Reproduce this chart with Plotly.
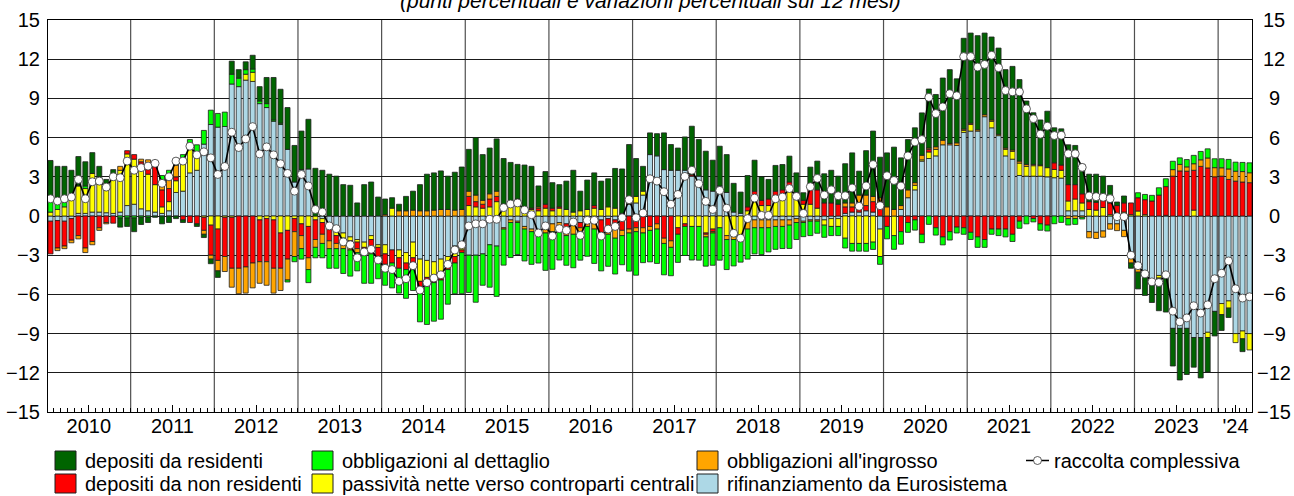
import plotly.graph_objects as go

# ---------------- data (monthly, Jan 2010 - May 2024) ----------------
year_labels = [str(y) for y in range(2010, 2024)] + ["'24"]

rifinanziamento = [
    -0.4, -0.35, -0.4, -0.2, 0.2, 0.2, 0.3, 0.3, 0.25, 0.2, 0.3, 0.8,
    0.9, 0.55, 0.4, 0.3, 0.2, 0.4, 1.8, 1.9, 3.3, 3.5, 5.5, 7.0,
    6.8, 6.85, 10.1, 9.9, 10.4, 10.3, 8.6, 8.3, 7.25, 7.0, 5.1, 2.6,
    3.55, 3.6, 0, -0.2, -1.0, -1.2, -1.3, -1.6, -1.8, -2.0, -1.5, -2.2,
    -2.2, -2.6, -2.6, -2.8, -2.0, -3.3, -3.4, -3.5, -3.3, -3.1, -2.3, -2.2,
    -3.0, -3.0, -2.9, -2.2, -2.3, -0.9, -0.3, -0.4, -0.8, -1.0, -1.4, -1.0,
    -0.6, -0.5, -0.6, -0.4, -0.5, -0.3, -0.4, -0.3, -0.2, -0.3, -0.2, 0.9,
    1.0, 1.6, 4.7, 4.6, 3.55, 3.5, 3.5, 3.5, 3.05, 3.05, 2.0, 1.9,
    2.3, 1.8, 0.3, 0.2, -0.3, -0.3, -0.3, -0.3, -0.3, -0.3, -0.3, -0.2,
    -0.4, -0.3, -0.3, -0.3, -0.2, -0.2, 0.2, 0.3, 0.3, 0.4, 0.3, -1.0,
    0, 0, 0.5, 1.4, 2.0, 4.2, 4.4, 4.6, 5.45, 5.45, 5.4, 6.4,
    6.5, 6.5, 7.6, 6.75, 6.15, 4.6, 4.35, 3.1, 3.05, 3.05, 3.05, 3.0,
    2.93, 2.9, 0.4, 0.4, 0.4, -1.2, -1.25, -1.15, -0.6, -0.6, -1.1, -3.2,
    -4.0, -4.5, -4.9, -4.55, -4.6, -8.6, -8.6, -8.6, -9.3, -9.3, -8.9, -7.3,
    -6.7, -6.5, -9.0, -8.8, -9.0,
]

passivita_ccp = [
    0.3, 0.5, 0.7, 1.3, 2.1, 1.9, 2.95, 2.6, 2.0, 2.8, 3.2, 3.95,
    3.45, 3.0, 2.8, 2.1, 0.5, 0.7, 0.9, 2.3, 2.0, 1.35, -0.1, -0.7,
    -1.0, -0.1, -0.1, 0, 0.45, 0.7, -0.3, -0.2, -0.3, -1.3, -1.1, -0.2,
    -0.6, -0.8, -0.3, -0.3, 0, -0.3, -0.4, -0.3, -0.2, -0.4, -0.3, -0.2,
    -0.7, 0.6, -0.6, -0.8, -1.2, -1.7, -1.3, -1.0, -1.2, -0.6, -0.8, -0.4,
    0.8, 0.7, 0.6, 0.7, 1.1, 0.6, 0.8, 1.0, 0.3, 0.5, 0.4, 0.6,
    0.4, 0.6, 0.5, 0.3, 0.4, 0.5, 0.6, 0.5, 0.7, 0.6, 0.2, 0.5,
    0.5, 0.3, 0, 0, 0, 0, -0.9, -0.6, -0.8, -0.8, -1.3, -1.0,
    -0.9, -1.5, -1.4, -1.5, 0.4, 1.4, 0.8, 0.8, 1.4, 1.5, 2.0, 1.4,
    0.9, 0.9, 0.6, -0.4, -0.6, -0.6, -1.7, -2.1, -2.1, -2.1, -2.0, -2.1,
    0, -1.5, 0, 0, 0.35, 0.1, 0.5, 0.5, 0, 0, 0, 0.15,
    0.5, 0, 0, 0.5, 0.1, 0.5, 0.6, 0.95, 0.75, 0.8, 0.8, 0.7,
    0.63, 0.6, 0.75, 0.9, 0.6, 0.5, 0.45, 0.65, 0.1, 0, 0.3, 0.1,
    0.38, 0.1, 0, -0.2, 0.05, 0, 0, 0, 0.45, 0, -0.4, 0,
    -0.85, -0.55, -0.69, -0.6, -1.25,
]

depositi_non_residenti = [
    -2.5, -2.1, -1.9, -1.65, -1.5, -2.45, -1.95, -0.9, -0.5, -0.55, 0, 0.25,
    0.35, 0.6, 0.8, 1.4, 1.3, 1.0, 0.3, -0.3, -0.5, -0.6, -1.0, -2.3,
    -2.4, -3.0, -3.9, -4.0, -3.9, -3.6, -3.2, -3.3, -3.7, -2.7, -2.2, -1.0,
    -0.9, -2.4, -1.5, -0.9, -0.9, -0.6, -0.3, -0.3, -0.5, -0.4, -0.8, -1.0,
    -0.8, -1.0, -0.8, -0.5, -0.8, -0.6, -0.7, -0.6, -0.4, -0.4, -0.5, -0.2,
    0.7, 0.4, 0.3, 0.6, 0.4, 0.3, 0.1, 0.3, 0.2, 0.1, 0.2, 0.3,
    0.2, 0.1, -0.3, -0.3, -0.4, 0, 0.2, -1.0, -0.7, -0.6, -0.9, -1.0,
    -0.9, -0.9, -0.8, -0.6, -1.7, -1.9, -0.5, -0.2, 0.1, 0, -0.1, -0.2,
    0, 0, 0, 0, 0.3, 0.5, 0.4, 0.5, 0.5, 0.5, 0.6, 0.4,
    0.3, 1.15, 1.4, 1.0, 1.0, 0.9, 0.5, 0.4, 0.6, 0.4, 0.8, 0.8,
    -0.8, 0, -1.2, -0.5, -0.3, -1.4, 0.2, -0.9, -1.6, -1.2, -0.85, -0.9,
    -1.25, -1.6, -1.8, -1.0, -1.0, -1.0, -1.4, -0.4, 0, -0.2, -0.6, -0.7,
    0.51, 0.4, 1.25, 1.1, 0.7, 0.6, 0.6, 0.55, 0.9, 0.8, 0.7, 0.9,
    1.02, 1.15, 1.15, 1.6, 2.2, 3.05, 3.45, 3.43, 3.05, 3.8, 3.68, 3.0,
    3.05, 2.8, 2.67, 2.6, 2.55,
]

obbligazioni_ingrosso = [
    0, -0.2, -0.2, -0.2, -0.25, -0.35, -0.25, -0.2, -0.1, 0, 0.3, 0,
    0, 0.2, 0.3, 0.3, 0.5, 0.7, 0.9, 0.1, 0, 0, -0.3, -0.3,
    -0.8, -1.15, -1.45, -1.95, -2.0, -1.9, -1.65, -1.8, -1.9, -1.7, -1.6, -1.9,
    -1.0, -0.9, -0.6, -0.7, -0.6, -0.4, -0.5, -0.4, -0.3, -0.2, -0.3, -0.1,
    0.1, 0, 0.4, 0.4, 0.45, 0.4, 0.4, 0.45, 0.5, 0.5, 0.45, 0.5,
    0.4, 0.5, 0.3, 0.4, 0.4, -0.1, -0.2, -0.1, -0.2, -0.2, 0.1, -0.3,
    -0.6, -0.5, -0.6, -0.7, -0.3, -0.5, -0.6, -0.3, -0.5, -0.8, -0.4, -0.3,
    -0.3, -0.4, -0.3, -0.4, -0.4, -0.5, 0, 0, 0, 0, -0.2, -0.1,
    0, -0.3, -0.4, -0.3, -0.7, -0.6, -0.6, -0.6, -0.5, -0.5, -0.4, -0.3,
    -0.1, -0.1, -0.1, 0, 0, 0, 0.3, 0.3, 0.7, 0.8, 0.4, 0.6,
    0.7, 0.5, 0.3, 0.6, 0.2, 0.35, 0.1, 0.2, 0.35, 0.1, 0.2, 0.1,
    0.1, 0.1, 0.15, 0.1, 0, 0.1, 0.1, 0.15, 0.15, 0.1, 0.05, 0,
    0, 0, -0.2, -0.2, -0.1, -0.47, -0.47, -0.47, -0.41, -0.52, -0.48, -0.4,
    -0.3, 0, 0, 0, 0, 0.5, 0.5, 0.33, 0.5, 0.5, 0.76, 0.7,
    0.64, 0.8, 0.76, 0.8, 0.76,
]

obbligazioni_dettaglio = [
    1.1, 0.5, 0.35, 0.1, 0.05, 0.2, 0, 0.1, 0.15, 0.15, -0.15, -0.15,
    -0.15, -0.1, -0.1, 0, 0.6, 0.7, 0.5, 0.4, 0.55, 0.6, 1.05, 1.1,
    1.05, 1.1, 0.75, 0.65, 0.35, 0.25, 0.2, 0.3, 0.1, 0.1, -0.15, -0.4,
    -0.8, -1.0, -0.8, -1.1, -1.5, -1.5, -1.9, -2.0, -1.4, -2.15, -2.25, -1.3,
    -1.6, -1.9, -1.9, -2.2, -1.7, -2.5, -2.9, -2.95, -3.0, -2.65, -2.35, -3.15,
    -2.85, -3.6, -2.4, -3.25, -3.85, -2.76, -2.68, -2.45, -2.44, -2.5, -2.2, -2.86,
    -2.88, -2.37, -2.27, -2.56, -2.18, -2.28, -2.63, -2.6, -2.45, -2.74, -2.23, -2.92,
    -3.33, -2.27, -2.41, -2.63, -2.4, -2.17, -2.15, -2.22, -2.57, -2.58, -2.24, -2.47,
    -2.48, -2.3, -2.02, -1.73, -2.3, -2.0, -2.05, -1.85, -1.75, -1.69, -1.78, -1.3,
    -1.08, -1.1, -0.92, -0.93, -0.7, -0.7, -0.75, -0.59, -0.59, -0.6, -0.56, -0.6,
    -0.95, -1.05, -0.96, -0.75, -0.78, -0.64, -0.64, -0.56, -0.61, -0.64, -0.45, -0.5,
    -0.55, -0.8, -0.6, -0.4, -0.5, -0.6, -0.55, -0.54, -0.6, -0.25, -0.49, -0.45,
    -0.59, -0.49, -0.49, -0.44, -0.13, 0, 0, 0, 0, 0, 0, 0,
    0.38, 0.4, 0.43, 0.56, 0.6, 0.64, 0.5, 0.56, 0.64, 0.64, 0.7, 0.68,
    0.69, 0.73, 0.69, 0.7, 0.76,
]

depositi_residenti = [
    2.85, 2.8, 2.75, 2.1, 2.2, 1.85, 1.6, 0.8, 0.4, 0.4, -0.7, -0.65,
    -1.05, -0.55, -0.4, -0.1, -0.6, -0.5, -0.2, -0.2, 0, -0.2, -0.25, -0.35,
    -0.5, 0, 1.0, 0.65, 0.6, 1.05, 1.1, 2.0, 3.25, 2.6, 3.2, 2.8,
    2.95, 3.8, 3.65, 3.5, 3.2, 3.05, 2.4, 2.35, 1.0, 2.4, 2.6, 1.45,
    1.2, 0.8, 0.5, 1.1, 1.45, 2.0, 2.8, 2.85, 2.95, 2.55, 2.9, 3.25,
    3.2, 4.4, 3.5, 3.5, 4.0, 3.5, 3.2, 2.65, 3.4, 3.2, 1.6, 2.5,
    1.95, 1.7, 2.17, 3.2, 1.5, 2.25, 2.5, 2.17, 2.15, 3.04, 3.4, 4.07,
    2.9, 1.9, 1.66, 1.7, 2.81, 1.97, 1.7, 2.55, 3.72, 2.8, 2.96, 2.37,
    3.04, 2.9, 2.2, 1.63, 2.4, 2.37, 1.8, 1.5, 1.97, 1.94, 1.98, 1.5,
    0.58, 1.69, 2.2, 2.23, 2.5, 2.15, 3.0, 3.83, 1.83, 3.4, 5.0, 3.1,
    4.13, 4.77, 3.65, 3.85, 4.2, 3.24, 4.52, 4.0, 4.76, 5.65, 4.9, 6.95,
    6.9, 7.2, 6.25, 6.35, 6.6, 6.0, 6.4, 6.24, 4.85, 3.95, 3.45, 4.32,
    2.68, 2.77, 3.05, 3.0, 2.25, 2.1, 2.15, 1.85, 1.34, 0.27, 0.53, -0.4,
    -1.28, -1.58, -1.72, -2.5, -2.75, -2.88, -3.95, -3.53, -2.27, -3.09, -2.64, -1.88,
    -1.21, -0.72, 0, -0.98, 0,
]

raccolta_complessiva = [
    1.32, 1.15, 1.32, 1.45, 2.8, 1.32, 2.62, 2.67, 2.21, 3.0, 2.93, 4.2,
    3.5, 3.7, 3.82, 4.03, 2.5, 3.0, 4.2, 4.2, 5.34, 4.68, 4.91, 4.45,
    3.18, 3.79, 6.41, 5.24, 5.9, 6.84, 4.75, 5.29, 4.68, 4.0, 3.26, 1.9,
    3.18, 2.3, 0.5, 0.3, -0.76, -0.97, -1.98, -2.2, -3.2, -2.75, -2.55, -3.36,
    -4.0, -4.1, -5.0, -4.8, -3.8, -5.67, -5.1, -4.75, -4.5, -3.7, -2.6, -2.2,
    -0.76, -0.6, -0.6, -0.25, -0.25, 0.64, 0.92, 1.0, 0.46, 0.1, -1.3, -0.76,
    -1.53, -0.97, -1.1, -0.46, -1.48, -0.33, -0.33, -1.53, -1.0, -0.8, -0.13, 1.25,
    -0.13, 0.23, 2.85, 2.67, 1.86, 0.9, 1.65, 3.03, 3.5, 2.47, 1.12, 0.5,
    1.96, 0.6, -1.32, -1.7, -0.2, 1.37, 0.05, 0.05, 1.32, 1.45, 2.1, 1.5,
    0.2, 2.24, 2.88, 1.6, 2.0, 1.55, 1.55, 2.14, 0.74, 2.3, 3.94, 0.79,
    3.08, 2.72, 2.29, 4.6, 5.67, 5.85, 9.08, 7.84, 8.35, 9.36, 9.2, 12.2,
    12.2, 11.4, 11.6, 12.3, 11.35, 9.6, 9.5, 9.5, 8.2, 7.45, 6.26, 6.87,
    6.16, 6.18, 4.76, 4.76, 3.72, 1.53, 1.48, 1.43, 1.33, -0.05, -0.05, -3.0,
    -3.8, -4.43, -5.04, -5.09, -4.5, -7.28, -8.1, -7.8, -6.87, -7.43, -6.8, -4.8,
    -4.38, -3.44, -5.57, -6.28, -6.18,
]

yticks = list(range(-15, 16, 3))

# ---------------- geometry / styles ----------------
N = len(raccolta_complessiva)
months = list(range(N))
W, H = 1294, 496
PL, PR, PT, PB = 48, 1252, 20, 412   # plot-area edges in page pixels
ML, MT, MR, MB = PL, PT, W - PR, H - PB
PW, PH = W - ML - MR, H - MT - MB
BAR_W = 0.717
FONT = "Liberation Sans, Arial, sans-serif"

series = [
    ("rifinanziamento da Eurosistema", rifinanziamento, "#add8e6"),
    ("passività nette verso controparti centrali", passivita_ccp, "#ffff00"),
    ("depositi da non residenti", depositi_non_residenti, "#ff0000"),
    ("obbligazioni all'ingrosso", obbligazioni_ingrosso, "#ffa500"),
    ("obbligazioni al dettaglio", obbligazioni_dettaglio, "#00ff00"),
    ("depositi da residenti", depositi_residenti, "#006400"),
]

fig = go.Figure()
for name, vals, col in series:
    fig.add_trace(go.Bar(
        x=months, y=[v if v != 0 else None for v in vals], name=name,
        width=BAR_W, marker=dict(color=col, line=dict(color="#1e1e1e", width=0.8)),
        showlegend=False,
    ))

fig.add_trace(go.Scatter(
    x=months, y=raccolta_complessiva, name="raccolta complessiva",
    mode="lines+markers", line=dict(color="black", width=1.6),
    marker=dict(symbol="circle", size=8, color="white", line=dict(color="#333", width=0.8)),
    showlegend=False,
))

year_centers = [12 * i + 5.5 for i in range(14)] + [(168 + N - 1) / 2]
year_bounds = [12 * i - 0.5 for i in range(1, 15)]

shapes = []
for xb in year_bounds:
    shapes.append(dict(type="line", xref="x", yref="paper", x0=xb, x1=xb, y0=0, y1=1,
                       line=dict(color="#505050", width=1.2), layer="below"))


def px2x(sx):
    return (sx - ML) / PW


def px2y(sy):
    return (H - MB - sy) / PH


annotations = [dict(
    text="<i>(punti percentuali e variazioni percentuali sui 12 mesi)</i>",
    xref="paper", yref="paper", x=0.5, y=px2y(0), xanchor="center", yanchor="middle",
    showarrow=False, font=dict(family=FONT, size=21, color="black"),
)]

# right-hand value labels (centred, as in the original)
for v in yticks:
    lab = str(v) if v >= 0 else "\u2212" + str(-v)
    annotations.append(dict(text=lab, xref="paper", yref="y", x=px2x(1274), y=v,
                            xanchor="center", yanchor="middle", showarrow=False,
                            font=dict(family=FONT, size=20, color="black")))

# legend (drawn manually: two rows, uneven columns)
col_x = [55, 312, 697]
row_y = [451, 474]
leg_items = [
    (0, 0, "depositi da residenti", "#006400"),
    (0, 1, "depositi da non residenti", "#ff0000"),
    (1, 0, "obbligazioni al dettaglio", "#00ff00"),
    (1, 1, "passività nette verso controparti centrali", "#ffff00"),
    (2, 0, "obbligazioni all'ingrosso", "#ffa500"),
    (2, 1, "rifinanziamento da Eurosistema", "#add8e6"),
]
for c, r, label, col in leg_items:
    x0, y0 = col_x[c], row_y[r]
    shapes.append(dict(type="rect", xref="paper", yref="paper",
                       x0=px2x(x0), x1=px2x(x0 + 21), y0=px2y(y0), y1=px2y(y0 + 19),
                       fillcolor=col, line=dict(color="#1e1e1e", width=1)))
    annotations.append(dict(text=label, xref="paper", yref="paper",
                            x=px2x(x0 + 28), y=px2y(y0 + 9.5), xanchor="left", yanchor="middle",
                            showarrow=False, font=dict(family=FONT, size=20, color="black")))
ly = row_y[0] + 9.5
shapes.append(dict(type="line", xref="paper", yref="paper",
                   x0=px2x(1026), x1=px2x(1049), y0=px2y(ly), y1=px2y(ly),
                   line=dict(color="black", width=1.5)))
shapes.append(dict(type="circle", xref="paper", yref="paper",
                   x0=px2x(1033.5), x1=px2x(1041.5), y0=px2y(ly - 4), y1=px2y(ly + 4),
                   fillcolor="white", line=dict(color="#333", width=0.8)))
annotations.append(dict(text="raccolta complessiva", xref="paper", yref="paper",
                        x=px2x(1052), y=px2y(ly), xanchor="left", yanchor="middle",
                        showarrow=False, font=dict(family=FONT, size=20, color="black")))

fig.update_layout(
    width=W, height=H, autosize=False,
    margin=dict(l=ML, r=MR, t=MT, b=MB, pad=0, autoexpand=False),
    paper_bgcolor="white", plot_bgcolor="white",
    barmode="relative", showlegend=False,
    font=dict(family=FONT, size=20, color="black"),
    shapes=shapes, annotations=annotations,
    xaxis=dict(
        range=[-BAR_W / 2, N - 1 + BAR_W / 2], tickmode="array",
        tickvals=year_centers, ticktext=year_labels, automargin=False,
        ticks="inside", ticklen=7, tickcolor="black", tickwidth=1,
        ticklabelstandoff=-4,
        showgrid=False, zeroline=False,
        showline=True, linecolor="black", linewidth=1.2, mirror=True,
        tickfont=dict(family=FONT, size=20, color="black"),
        minor=dict(tick0=0.5, dtick=1, ticks="inside", ticklen=4,
                   tickcolor="black", tickwidth=1, showgrid=False),
    ),
    yaxis=dict(
        range=[-15, 15], tickmode="array", tickvals=yticks, automargin=False,
        showgrid=True, gridcolor="#1a1a1a", gridwidth=1,
        zeroline=True, zerolinecolor="#1a1a1a", zerolinewidth=1,
        showline=True, linecolor="black", linewidth=1.2, mirror=True,
        ticks="", ticklabelstandoff=3,
        tickfont=dict(family=FONT, size=20, color="black"),
    ),
)

# the page's default 8px body margin would push the fixed-size figure out of the window
fig.write_html(
    "out.html",
    config={"displayModeBar": False},
    post_script="document.body.style.margin='0';document.body.style.overflow='hidden';",
)
